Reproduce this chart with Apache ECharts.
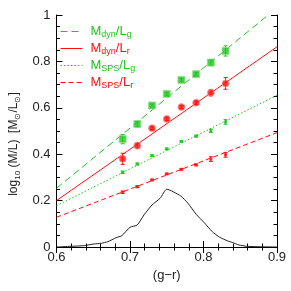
<!DOCTYPE html>
<html><head><meta charset="utf-8">
<script src="https://cdn.jsdelivr.net/npm/echarts@6/dist/echarts.min.js"></script>
<style>html,body{margin:0;padding:0;background:#fff}#c{width:291px;height:291px}</style>
</head><body><div id="c"></div>
<script>
// ---- data ----
var colorBins = [0.69, 0.71, 0.73, 0.75, 0.77, 0.79, 0.81, 0.83];
var dynLg = [0.465, 0.530, 0.610, 0.660, 0.720, 0.745, 0.795, 0.845];
var dynLgErr = [0.020, 0.013, 0.006, 0.006, 0.006, 0.008, 0.013, 0.022];
var dynLr = [0.380, 0.437, 0.512, 0.552, 0.603, 0.622, 0.665, 0.705];
var dynLrErr = [0.024, 0.013, 0.006, 0.006, 0.006, 0.008, 0.014, 0.025];
var spsLg = [0.322, 0.358, 0.394, 0.423, 0.455, 0.478, 0.501, 0.539];
var spsLgErr = [0.005, 0.004, 0.003, 0.003, 0.003, 0.004, 0.007, 0.010];
var spsLr = [0.236, 0.260, 0.289, 0.315, 0.335, 0.354, 0.379, 0.397];
var spsLrErr = [0.005, 0.004, 0.003, 0.003, 0.003, 0.004, 0.010, 0.010];
// linear fits: [x, y] end points
var fitDynLg = [[0.6, 0.253], [0.888, 1.0]];
var fitDynLr = [[0.6, 0.200], [0.9, 0.863]];
var fitSpsLg = [[0.6, 0.178], [0.9, 0.654]];
var fitSpsLr = [[0.6, 0.128], [0.9, 0.493]];
// colour distribution (arbitrary scale)
var distX = [0.6, 0.62, 0.638, 0.651, 0.661, 0.67, 0.681, 0.689, 0.70, 0.71, 0.719, 0.730, 0.741, 0.750, 0.769, 0.779, 0.790, 0.801, 0.812, 0.822, 0.833, 0.839, 0.848, 0.859, 0.878, 0.9];
var distY = [0, 0.003, 0.006, 0.013, 0.016, 0.023, 0.040, 0.049, 0.085, 0.095, 0.138, 0.181, 0.210, 0.249, 0.220, 0.188, 0.141, 0.105, 0.066, 0.042, 0.026, 0.020, 0.009, 0.003, 0.001, 0];
var xTicks = {min: 0.6, max: 0.9, interval: 0.1};
var yTicks = {min: 0, max: 1, interval: 0.2};

var GREEN = '#22c322', RED = '#ff1010';
var FONT = 'Liberation Sans';

function pts(xs, ys) { return xs.map(function (x, i) { return [x, ys[i]]; }); }
function errs(xs, ys, es) { return xs.map(function (x, i) { return [x, ys[i] - es[i], ys[i] + es[i]]; }); }

function errSeries(data, color) {
  return {
    type: 'custom', data: data, z: 3, silent: true,
    renderItem: function (params, api) {
      var x = api.value(0);
      var a = api.coord([x, api.value(1)]);
      var b = api.coord([x, api.value(2)]);
      var st = {stroke: color, lineWidth: 1};
      return {type: 'group', children: [
        {type: 'line', shape: {x1: a[0], y1: a[1], x2: b[0], y2: b[1]}, style: st},
        {type: 'line', shape: {x1: a[0] - 2, y1: a[1], x2: a[0] + 2, y2: a[1]}, style: st},
        {type: 'line', shape: {x1: b[0] - 2, y1: b[1], x2: b[0] + 2, y2: b[1]}, style: st}
      ]};
    }
  };
}

function fitSeries(name, data, color, type) {
  return {
    name: name, type: 'line', data: data, symbol: 'none', z: 2, silent: true,
    lineStyle: {color: color, width: 1, type: type}, itemStyle: {color: color}
  };
}

var legendText = {
  dynLg: '{gm|M}{gs|dyn}{gm|/L}{gs|g}',
  dynLr: '{rm|M}{rs|dyn}{rm|/L}{rs|r}',
  spsLg: '{gm|M}{gs|SPS}{gm|/L}{gs|g}',
  spsLr: '{rm|M}{rs|SPS}{rm|/L}{rs|r}'
};

var axisCommon = {
  axisLine: {lineStyle: {color: '#000', width: 1}},
  axisTick: {inside: true, length: 6, lineStyle: {color: '#000'}},
  minorTick: {show: true, length: 3.5, lineStyle: {color: '#000'}},
  splitLine: {show: false},
  axisLabel: {color: '#222', fontFamily: FONT, fontSize: 13}
};
function ax(extra) { return Object.assign({}, JSON.parse(JSON.stringify(axisCommon)), extra); }

var chart = echarts.init(document.getElementById('c'), null, {renderer: 'canvas'});
chart.setOption({
  animation: false,
  backgroundColor: '#fff',
  grid: {left: 44, top: 15, right: 14, bottom: 44},
  legend: {
    orient: 'vertical', left: 60, top: 25, padding: 0, itemGap: 2.5,
    itemWidth: 22, itemHeight: 9,
    itemStyle: {opacity: 0},
    lineStyle: {width: 1},
    data: ['dynLg', 'dynLr', 'spsLg', 'spsLr'],
    formatter: function (n) { return legendText[n]; },
    textStyle: {
      padding: [0, 0, 0, 3],
      rich: {
        gm: {color: GREEN, fontFamily: FONT, fontSize: 13, lineHeight: 16, verticalAlign: 'middle'},
        gs: {color: GREEN, fontFamily: FONT, fontSize: 9, lineHeight: 9, verticalAlign: 'bottom'},
        rm: {color: RED, fontFamily: FONT, fontSize: 13, lineHeight: 16, verticalAlign: 'middle'},
        rs: {color: RED, fontFamily: FONT, fontSize: 9, lineHeight: 9, verticalAlign: 'bottom'}
      }
    }
  },
  xAxis: [
    ax({type: 'value', min: xTicks.min, max: xTicks.max, interval: xTicks.interval, position: 'bottom',
      minorTick: {show: true, splitNumber: 5, length: 3.5, lineStyle: {color: '#000'}},
      axisLabel: {color: '#222', fontFamily: FONT, fontSize: 13, margin: 4},
      name: '(g\u2212r)', nameLocation: 'middle', nameGap: 20,
      nameTextStyle: {color: '#222', fontFamily: FONT, fontSize: 13}}),
    ax({type: 'value', min: xTicks.min, max: xTicks.max, interval: xTicks.interval, position: 'top',
      minorTick: {show: true, splitNumber: 5, length: 3.5, lineStyle: {color: '#000'}},
      axisLabel: {show: false}})
  ],
  yAxis: [
    ax({type: 'value', min: yTicks.min, max: yTicks.max, interval: yTicks.interval, position: 'left',
      minorTick: {show: true, splitNumber: 4, length: 3.5, lineStyle: {color: '#000'}},
      axisLabel: {color: '#222', fontFamily: FONT, fontSize: 13, margin: 6},
      name: '{n|log}{s|10}{n| (M/L)  [M}{s|\u2299}{n|/L}{s|\u2299}{n|]}',
      nameLocation: 'middle', nameGap: 28, nameRotate: 90,
      nameTextStyle: {padding: [0, 26, 0, 0], rich: {
        n: {color: '#222', fontFamily: FONT, fontSize: 12, lineHeight: 15, verticalAlign: 'middle'},
        s: {color: '#222', fontFamily: FONT, fontSize: 8, lineHeight: 8, verticalAlign: 'bottom'}
      }}}),
    ax({type: 'value', min: yTicks.min, max: yTicks.max, interval: yTicks.interval, position: 'right',
      minorTick: {show: true, splitNumber: 4, length: 3.5, lineStyle: {color: '#000'}},
      axisLabel: {show: false}})
  ],
  series: [
    fitSeries('dynLg', fitDynLg, GREEN, [7, 4]),
    fitSeries('dynLr', fitDynLr, RED, 'solid'),
    fitSeries('spsLg', fitSpsLg, GREEN, [1.5, 2]),
    fitSeries('spsLr', fitSpsLr, RED, [5, 3]),
    {type: 'line', data: pts(distX, distY), symbol: 'none', smooth: 0.2, silent: true,
      lineStyle: {color: '#222', width: 1}, z: 2},
    errSeries(errs(colorBins, dynLg, dynLgErr), GREEN),
    errSeries(errs(colorBins, dynLr, dynLrErr), RED),
    errSeries(errs(colorBins, spsLg, spsLgErr), GREEN),
    errSeries(errs(colorBins, spsLr, spsLrErr), RED),
    {type: 'scatter', data: pts(colorBins, dynLg), symbol: 'rect', symbolSize: 7, z: 4, silent: true,
      itemStyle: {color: GREEN, borderColor: '#8ee08e', borderWidth: 1}},
    {type: 'scatter', data: pts(colorBins, dynLr), symbol: 'circle', symbolSize: 7, z: 4, silent: true,
      itemStyle: {color: RED, borderColor: '#ff9a9a', borderWidth: 1}},
    {type: 'scatter', data: pts(colorBins, spsLg), symbol: 'rect', symbolSize: 3, z: 4, silent: true,
      itemStyle: {color: GREEN}},
    {type: 'scatter', data: pts(colorBins, spsLr), symbol: 'rect', symbolSize: 3, z: 4, silent: true,
      itemStyle: {color: RED}}
  ]
});
</script>
</body></html>
